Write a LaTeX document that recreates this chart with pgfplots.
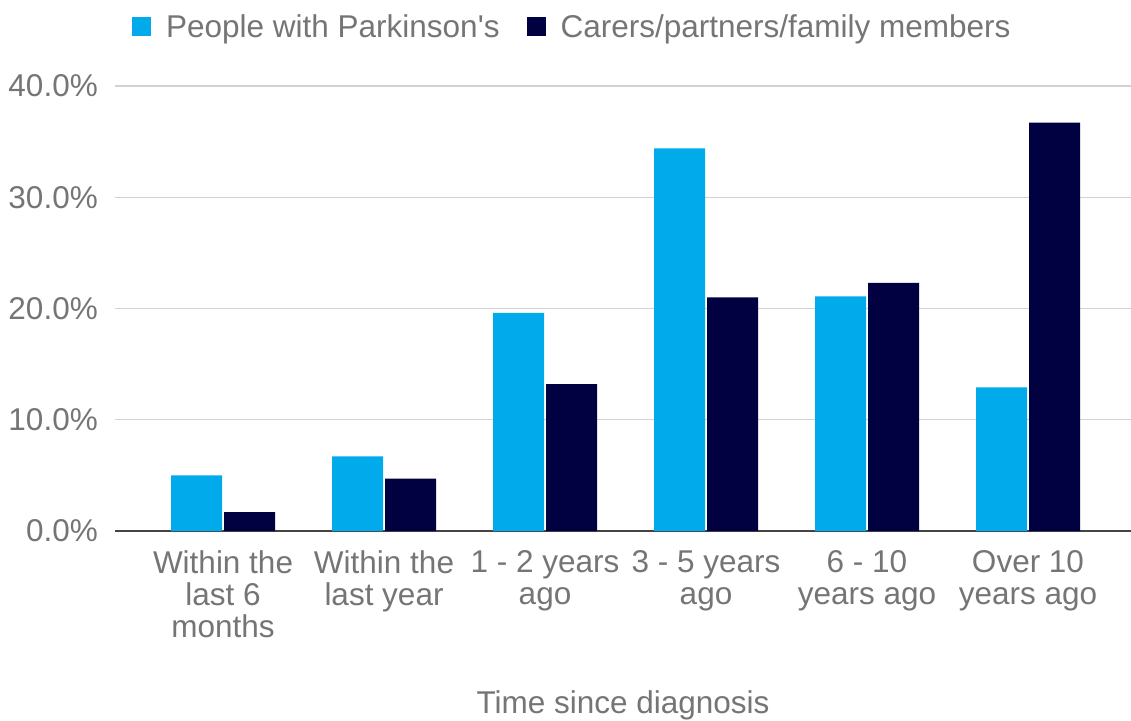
\documentclass[border=0pt]{standalone}
\usepackage{fontspec}
\setmainfont{Liberation Sans}
\usepackage{pgfplots}
\pgfplotsset{compat=1.18}

\definecolor{pdlight}{RGB}{0,170,235}
\definecolor{pddark}{RGB}{1,0,64}
\definecolor{labelgray}{RGB}{117,117,117}
\definecolor{gridgray}{RGB}{210,210,210}
\definecolor{basegray}{RGB}{68,68,68}

\begin{document}
\begin{tikzpicture}
\useasboundingbox (0,0) rectangle (1131pt,720pt);
\begin{axis}[
  at={(115pt,189pt)}, anchor=south west,
  scale only axis,
  width=1016pt, height=445pt,
  xmin=-0.671, xmax=5.64,
  ymin=0, ymax=40,
  ybar=2pt, bar width=51pt,
  axis lines*=left,
  y axis line style={draw=none},
  x axis line style={draw=basegray, line width=2pt},
  xtick=data,
  xticklabels={{Within the\\last 6\\months},{Within the\\last year},{1 - 2 years\\ago},{3 - 5 years\\ago},{6 - 10\\years ago},{Over 10\\years ago}},
  ytick={0,10,20,30,40},
  major tick length=0pt,
  tick style={draw=none},
  ymajorgrids,
  major grid style={draw=gridgray, line width=1.3pt},
  /pgf/number format/assume math mode=true,
  yticklabel={\pgfmathprintnumber[fixed,fixed zerofill,precision=1]{\tick}\%},
  yticklabel style={anchor=east, inner sep=0pt, xshift=-17pt},
  xticklabel style={align=center, anchor=north, inner sep=0pt, yshift=-19pt},
  ticklabel style={font=\fontsize{31.5}{32}\selectfont, text=labelgray},
  xlabel={Time since diagnosis},
  xlabel style={at={(axis description cs:0.5,-0.409)}, anchor=base, inner sep=0pt,
    font=\fontsize{31.5}{32}\selectfont, text=labelgray},
  legend columns=2,
  legend style={draw=none, fill=none, inner sep=0pt,
    at={(0.0167,1.1326)}, anchor=west,
    font=\fontsize{31.5}{32}\selectfont, text=labelgray,
    nodes={inner sep=0pt},
    /tikz/every odd column/.append style={column sep=15pt},
    /tikz/every even column/.append style={column sep=27pt}},
  legend image code/.code={\path[#1, draw=none] (0pt,-9.5pt) rectangle (19pt,9.5pt);},
]
% People with Parkinson's
\addplot[fill=pdlight, draw=none] coordinates {
  (0,5.0) (1,6.7) (2,19.6) (3,34.4) (4,21.1) (5,12.9)};
\addlegendentry{People with Parkinson\textquotesingle s}
% Carers/partners/family members
\addplot[fill=pddark, draw=none] coordinates {
  (0,1.7) (1,4.7) (2,13.2) (3,21.0) (4,22.3) (5,36.7)};
\addlegendentry{Carers/partners/family members}
\end{axis}
\end{tikzpicture}
\end{document}
